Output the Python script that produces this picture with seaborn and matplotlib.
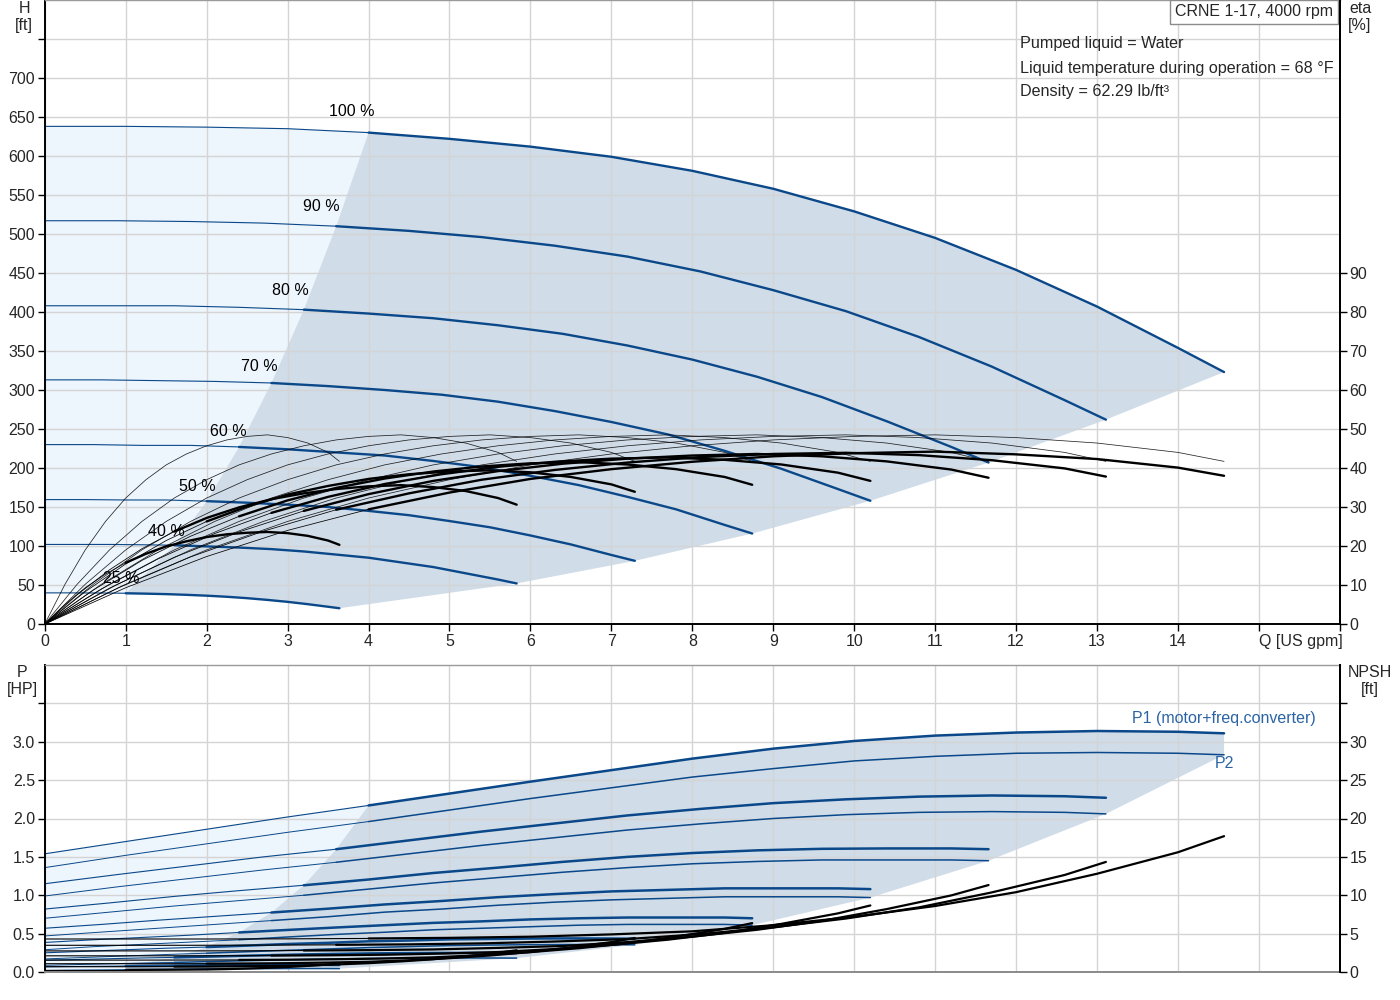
import seaborn as sns
import matplotlib.pyplot as plt

# ---- data -------------------------------------------------------------------
# flow points of each speed curve [US gpm]
q_100 = [0, 1, 2, 3, 4, 5, 6, 7, 8, 9, 10, 11, 12, 13, 14, 14.57]
q_90 = [0, 0.9, 1.8, 2.7, 3.6, 4.5, 5.4, 6.3, 7.2, 8.1, 9.0, 9.9, 10.8, 11.7, 12.6, 13.11]
q_80 = [0, 0.8, 1.6, 2.4, 3.2, 4.0, 4.8, 5.6, 6.4, 7.2, 8.0, 8.8, 9.6, 10.4, 11.2, 11.66]
q_70 = [0, 0.7, 1.4, 2.1, 2.8, 3.5, 4.2, 4.9, 5.6, 6.3, 7.0, 7.7, 8.4, 9.1, 9.8, 10.2]
q_60 = [0, 0.6, 1.2, 1.8, 2.4, 3.0, 3.6, 4.2, 4.8, 5.4, 6.0, 6.6, 7.2, 7.8, 8.4, 8.74]
q_50 = [0, 0.5, 1.0, 1.5, 2.0, 2.5, 3.0, 3.5, 4.0, 4.5, 5.0, 5.5, 6.0, 6.5, 7.0, 7.29]
q_40 = [0, 0.4, 0.8, 1.2, 1.6, 2.0, 2.4, 2.8, 3.2, 3.6, 4.0, 4.4, 4.8, 5.2, 5.6, 5.83]
q_25 = [0, 0.25, 0.5, 0.75, 1.0, 1.25, 1.5, 1.75, 2.0, 2.25, 2.5, 2.75, 3.0, 3.25, 3.5, 3.64]

# head [ft]
h_100 = [638, 638, 637, 635, 630, 622, 612, 599, 581, 558, 529, 495, 454, 407, 354, 323]
h_90 = [517, 517, 516, 514, 510, 504, 496, 485, 471, 452, 428, 401, 368, 330, 287, 262]
h_80 = [408, 408, 408, 406, 403, 398, 392, 383, 372, 357, 339, 317, 291, 260, 227, 207]
h_70 = [313, 313, 312, 311, 309, 305, 300, 294, 285, 273, 259, 243, 222, 199, 173, 158]
h_60 = [230, 230, 229, 229, 227, 224, 220, 216, 209, 201, 190, 178, 163, 147, 127, 116]
h_50 = [159.5, 159.5, 159, 159, 157.5, 155.5, 153, 150, 145, 139.5, 132, 124, 113.5, 102, 88.5, 81]
h_40 = [102, 102, 102, 101.6, 101, 99.5, 98, 96, 93, 89, 85, 79, 73, 65, 57, 52]
h_25 = [39.9, 39.9, 39.8, 39.7, 39.4, 38.9, 38.3, 37.4, 36.3, 34.9, 33.1, 30.9, 28.4, 25.4, 22.1, 20.2]

# pump efficiency [%] (thin curves, same values along every speed curve)
eta_pump = [0, 10.2, 19.0, 26.3, 32.3, 37.0, 40.8, 43.6, 45.7, 47.2, 48.1, 48.5, 47.8, 46.4, 44.0, 41.7]

# total efficiency [%] (thick curves)
eta_100 = [0, 9.3, 17.3, 24.0, 29.4, 33.7, 37.2, 39.7, 41.6, 43.0, 43.8, 44.2, 43.5, 42.3, 40.1, 38.0]
eta_90 = [0, 9.2, 17.2, 23.8, 29.3, 33.5, 37.0, 39.5, 41.4, 42.8, 43.6, 43.9, 43.3, 42.0, 39.9, 37.8]
eta_80 = [0, 9.2, 17.1, 23.6, 29.0, 33.3, 36.7, 39.2, 41.1, 42.4, 43.2, 43.6, 43.0, 41.7, 39.6, 37.5]
eta_70 = [0, 9.0, 16.7, 23.2, 28.5, 32.6, 35.9, 38.4, 40.3, 41.6, 42.4, 42.7, 42.1, 40.9, 38.8, 36.7]
eta_60 = [0, 8.7, 16.3, 22.5, 27.6, 31.7, 34.9, 37.3, 39.1, 40.4, 41.2, 41.5, 40.9, 39.7, 37.7, 35.7]
eta_50 = [0, 8.3, 15.4, 21.4, 26.3, 30.1, 33.2, 35.4, 37.2, 38.4, 39.1, 39.4, 38.9, 37.7, 35.8, 33.9]
eta_40 = [0, 7.5, 13.9, 19.3, 23.7, 27.2, 29.9, 32.0, 33.5, 34.6, 35.3, 35.6, 35.1, 34.1, 32.3, 30.6]
eta_25 = [0, 5.0, 9.3, 12.8, 15.7, 18.0, 19.9, 21.2, 22.3, 23.0, 23.4, 23.6, 23.3, 22.6, 21.4, 20.3]

# P1 (motor + freq. converter) [HP]
p1_100 = [1.54, 1.70, 1.86, 2.02, 2.17, 2.325, 2.48, 2.63, 2.78, 2.91, 3.01, 3.08, 3.12, 3.14, 3.13, 3.11]
p1_90 = [1.15, 1.27, 1.385, 1.50, 1.60, 1.715, 1.83, 1.935, 2.04, 2.125, 2.20, 2.25, 2.285, 2.30, 2.29, 2.27]
p1_80 = [0.82, 0.90, 0.985, 1.06, 1.13, 1.205, 1.29, 1.36, 1.435, 1.50, 1.55, 1.585, 1.605, 1.61, 1.61, 1.60]
p1_70 = [0.57, 0.62, 0.675, 0.725, 0.775, 0.825, 0.88, 0.925, 0.975, 1.015, 1.05, 1.07, 1.09, 1.09, 1.09, 1.08]
p1_60 = [0.385, 0.42, 0.45, 0.48, 0.515, 0.548, 0.58, 0.61, 0.64, 0.66, 0.685, 0.70, 0.71, 0.71, 0.71, 0.70]
p1_50 = [0.25, 0.27, 0.29, 0.31, 0.325, 0.344, 0.365, 0.38, 0.40, 0.41, 0.425, 0.43, 0.436, 0.438, 0.436, 0.434]
p1_40 = [0.153, 0.163, 0.173, 0.183, 0.19, 0.20, 0.21, 0.22, 0.229, 0.236, 0.242, 0.246, 0.248, 0.249, 0.248, 0.247]
p1_25 = [0.068, 0.071, 0.073, 0.075, 0.078, 0.080, 0.082, 0.085, 0.087, 0.088, 0.09, 0.091, 0.092, 0.092, 0.092, 0.091]

# P2 (shaft power) [HP]
p2_100 = [1.36, 1.52, 1.67, 1.82, 1.96, 2.11, 2.26, 2.40, 2.54, 2.65, 2.75, 2.81, 2.85, 2.86, 2.85, 2.83]
p2_90 = [0.99, 1.11, 1.22, 1.33, 1.43, 1.54, 1.65, 1.75, 1.85, 1.93, 2.00, 2.05, 2.08, 2.09, 2.08, 2.06]
p2_80 = [0.70, 0.78, 0.86, 0.93, 1.00, 1.08, 1.16, 1.23, 1.30, 1.36, 1.41, 1.44, 1.46, 1.46, 1.46, 1.45]
p2_70 = [0.47, 0.52, 0.57, 0.62, 0.67, 0.72, 0.78, 0.82, 0.87, 0.91, 0.94, 0.96, 0.98, 0.98, 0.98, 0.97]
p2_60 = [0.29, 0.33, 0.36, 0.39, 0.42, 0.456, 0.49, 0.518, 0.55, 0.57, 0.59, 0.61, 0.62, 0.62, 0.62, 0.61]
p2_50 = [0.170, 0.190, 0.209, 0.228, 0.245, 0.264, 0.283, 0.300, 0.318, 0.331, 0.344, 0.351, 0.356, 0.358, 0.356, 0.354]
p2_40 = [0.087, 0.097, 0.107, 0.117, 0.125, 0.135, 0.145, 0.154, 0.163, 0.170, 0.176, 0.180, 0.182, 0.183, 0.182, 0.181]
p2_25 = [0.021, 0.024, 0.026, 0.028, 0.031, 0.033, 0.035, 0.0375, 0.040, 0.041, 0.043, 0.044, 0.045, 0.045, 0.045, 0.044]

# NPSH [ft]
npsh_100 = [4.3, 4.3, 4.3, 4.32, 4.37, 4.45, 4.6, 4.9, 5.3, 6.1, 7.2, 8.6, 10.4, 12.8, 15.6, 17.7]
npsh_90 = [3.48, 3.48, 3.48, 3.50, 3.54, 3.60, 3.73, 3.97, 4.29, 4.94, 5.83, 6.97, 8.42, 10.37, 12.64, 14.34]
npsh_80 = [2.75, 2.75, 2.75, 2.76, 2.80, 2.85, 2.94, 3.14, 3.39, 3.90, 4.61, 5.50, 6.66, 8.19, 9.98, 11.33]
npsh_70 = [2.11, 2.11, 2.11, 2.12, 2.14, 2.18, 2.25, 2.40, 2.60, 2.99, 3.53, 4.21, 5.10, 6.27, 7.64, 8.67]
npsh_60 = [1.55, 1.55, 1.55, 1.56, 1.57, 1.60, 1.66, 1.76, 1.91, 2.20, 2.59, 3.10, 3.74, 4.61, 5.62, 6.37]
npsh_50 = [1.08, 1.08, 1.08, 1.08, 1.09, 1.11, 1.15, 1.23, 1.33, 1.53, 1.80, 2.15, 2.60, 3.20, 3.90, 4.43]
npsh_40 = [0.69, 0.69, 0.69, 0.69, 0.70, 0.71, 0.74, 0.78, 0.85, 0.98, 1.15, 1.38, 1.66, 2.05, 2.50, 2.83]
npsh_25 = [0.27, 0.27, 0.27, 0.27, 0.27, 0.28, 0.29, 0.31, 0.33, 0.38, 0.45, 0.54, 0.65, 0.80, 0.98, 1.11]

speed_labels = ["100 %", "90 %", "80 %", "70 %", "60 %", "50 %", "40 %", "25 %"]
# where each speed label sits relative to the start of its thick curve part [pt]
label_offsets = [(-12, 15), (-10.5, 14.5), (-9.5, 13.5), (-8.5, 12.2),
                 (-7.5, 11.4), (-6.5, 10.9), (-5.5, 10.2), (-3.5, 10.3)]

q_ticks = list(range(0, 17))
q_ticklabels = [str(i) for i in range(15)] + ["Q [US gpm]", ""]
h_ticks = list(range(0, 800, 50))
eta_ticks = list(range(0, 100, 10))
p_ticks = [0.0, 0.5, 1.0, 1.5, 2.0, 2.5, 3.0, 3.5]
npsh_ticks = [0, 5, 10, 15, 20, 25, 30, 35]

curves = list(zip(speed_labels,
                  [q_100, q_90, q_80, q_70, q_60, q_50, q_40, q_25],
                  [h_100, h_90, h_80, h_70, h_60, h_50, h_40, h_25],
                  [eta_100, eta_90, eta_80, eta_70, eta_60, eta_50, eta_40, eta_25],
                  [p1_100, p1_90, p1_80, p1_70, p1_60, p1_50, p1_40, p1_25],
                  [p2_100, p2_90, p2_80, p2_70, p2_60, p2_50, p2_40, p2_25],
                  [npsh_100, npsh_90, npsh_80, npsh_70, npsh_60, npsh_50, npsh_40, npsh_25],
                  label_offsets))

# first point of the recommended (dark) range on every curve
K = 4

# ---- style -------------------------------------------------------------------
sns.set_theme(style="white")
plt.rcParams['font.family'] = ['Liberation Sans', 'DejaVu Sans']
plt.rcParams['font.size'] = 11.5

blue = "#0a4889"
label_blue = "#2a64a4"
light_fill = "#edf5fd"
dark_fill = "#d0dce8"
grid_col = "#d4d4d4"
FS = 11.5


def line(ax, q, v, color, lw, alpha=1.0):
    sns.lineplot(x=q, y=v, ax=ax, color=color, linewidth=lw, alpha=alpha,
                 estimator=None, sort=False, legend=False)


def split_line(ax, q, v, color, thin, thick):
    line(ax, q[:K + 1], v[:K + 1], color, thin)
    line(ax, q[K:], v[K:], color, thick)


def style_axes(ax):
    ax.set_facecolor("white")
    ax.set_axisbelow(True)
    ax.grid(True, color=grid_col, linewidth=1.0)
    for side in ("left", "right", "bottom"):
        ax.spines[side].set_color("black")
        ax.spines[side].set_linewidth(1.4)
    ax.spines["top"].set_color("#9a9a9a")
    ax.spines["top"].set_linewidth(1.0)


fig = plt.figure(figsize=(14, 10), dpi=100)
ax1 = fig.add_axes([0.032, 0.376, 0.925, 0.624])
ax2 = fig.add_axes([0.032, 0.028, 0.925, 0.307])
ax1e = ax1.twinx()
ax2n = ax2.twinx()

style_axes(ax1)
style_axes(ax2)
ax2.spines["bottom"].set_color("#8a8a8a")
for tw in (ax1e, ax2n):
    tw.grid(False)
    for side in ("left", "top", "bottom"):
        tw.spines[side].set_visible(False)
    tw.spines["right"].set_color("black")
    tw.spines["right"].set_linewidth(1.4)

# ---- shaded operating areas (top) -------------------------------------------
qs = [c[1] for c in curves]
hs = [c[2] for c in curves]
dark_x = q_100[K:] + [q[-1] for q in qs[1:]] + q_25[K:-1][::-1] + [q[K] for q in qs[1:-1]][::-1]
dark_y = h_100[K:] + [h[-1] for h in hs[1:]] + h_25[K:-1][::-1] + [h[K] for h in hs[1:-1]][::-1]
light_x = q_100[:K + 1] + [q[K] for q in qs[1:]] + q_25[:K][::-1]
light_y = h_100[:K + 1] + [h[K] for h in hs[1:]] + h_25[:K][::-1]
ax1.fill(light_x, light_y, color=light_fill, lw=0, zorder=0.2)
ax1.fill(dark_x, dark_y, color=dark_fill, lw=0, zorder=0.2)

# ---- shaded operating areas (bottom) ----------------------------------------
p1s = [c[4] for c in curves]
p2s = [c[5] for c in curves]
bdark_x = (q_100[K:] + [q[-1] for q in qs] + q_25[K:-1][::-1]
           + [q_25[K]] + [q[K] for q in qs[1:-1]][::-1])
bdark_y = (p1_100[K:] + [p[-1] for p in p2s] + p2_25[K:-1][::-1]
           + [p1_25[K]] + [p[K] for p in p1s[1:-1]][::-1])
blight_x = q_100[:K + 1] + [q[K] for q in qs[1:]] + [q_25[K]] + q_25[:K][::-1]
blight_y = p1_100[:K + 1] + [p[K] for p in p1s[1:]] + [p2_25[K]] + p2_25[:K][::-1]
ax2.fill(blight_x, blight_y, color=light_fill, lw=0, zorder=0.2)
ax2.fill(bdark_x, bdark_y, color=dark_fill, lw=0, zorder=0.2)

# ---- curves -------------------------------------------------------------------
for lab, q, h, eta, p1, p2, npsh, off in curves:
    split_line(ax1, q, h, blue, 0.8, 1.7)
    line(ax1e, q, eta_pump, "black", 0.55, alpha=0.85)
    split_line(ax1e, q, eta, "black", 0.55, 1.7)
    split_line(ax2, q, p1, blue, 0.8, 1.8)
    split_line(ax2, q, p2, blue, 0.7, 1.1)
    split_line(ax2n, q, npsh, "black", 0.8, 1.6)
    ax1.annotate(lab, (q[K], h[K]), xytext=off, textcoords="offset points",
                 ha="center", va="center", fontsize=FS, color="black")

ax2.annotate("P1 (motor+freq.converter)", (q_100[-1], p1_100[-1]), xytext=(66, 11),
             textcoords="offset points", ha="right", va="center", fontsize=FS,
             color=label_blue)
ax2.annotate("P2", (q_100[-1], p2_100[-1]), xytext=(0, -6), textcoords="offset points",
             ha="center", va="center", fontsize=FS, color=label_blue)

# ---- axes ---------------------------------------------------------------------
for ax in (ax1, ax2, ax1e, ax2n):
    ax.set_xlim(0, 16)
    ax.set_xlabel("")
    ax.set_ylabel("")
ax1.set_ylim(0, 800)
ax1e.set_ylim(0, 160)
ax2.set_ylim(0, 4)
ax2n.set_ylim(0, 40)

ax1.set_xticks(q_ticks)
ax1.set_xticklabels(q_ticklabels)
ax1.get_xticklabels()[15].set_ha("left")
ax1.tick_params(axis="x", bottom=True, length=5, width=1, color="black",
                labelsize=FS, pad=2)
ax1.set_yticks(h_ticks)
ax1.set_yticklabels([str(v) if v <= 700 else "" for v in h_ticks])
ax1.tick_params(axis="y", left=True, length=5, width=1, color="black", labelsize=FS, pad=2)
ax1e.set_yticks(eta_ticks)
ax1e.tick_params(axis="y", right=True, length=5, width=1, color="black", labelsize=FS, pad=2)

ax2.set_xticks(q_ticks)
ax2.set_xticklabels([])
ax2.tick_params(axis="x", bottom=False, length=0)
ax2.set_yticks(p_ticks)
ax2.set_yticklabels([f"{v:.1f}" if v <= 3.0 else "" for v in p_ticks])
ax2.tick_params(axis="y", left=True, length=5, width=1, color="black", labelsize=FS, pad=2)
ax2n.set_yticks(npsh_ticks)
ax2n.set_yticklabels([str(v) if v <= 30 else "" for v in npsh_ticks])
ax2n.tick_params(axis="y", right=True, length=5, width=1, color="black", labelsize=FS, pad=2)

# ---- texts --------------------------------------------------------------------
ax1.text(0.9946, 0.981, "CRNE 1-17, 4000 rpm", transform=ax1.transAxes, ha="right",
         va="center", fontsize=11.5,
         bbox=dict(boxstyle="square,pad=0.3", fc="white", ec="#8c8c8c", lw=1))
ax1.text(0.753, 0.9295, "Pumped liquid = Water", transform=ax1.transAxes,
         ha="left", va="center", fontsize=11.6)
ax1.text(0.753, 0.891, "Liquid temperature during operation = 68 °F",
         transform=ax1.transAxes, ha="left", va="center", fontsize=11.6)
ax1.text(0.753, 0.8526, "Density = 62.29 lb/ft³", transform=ax1.transAxes,
         ha="left", va="center", fontsize=11.6)

fig.text(24 / 1400, 1 - 17 / 1000, "H\n[ft]", ha="center", va="center", fontsize=FS,
         linespacing=1.1)
fig.text(1360 / 1400, 1 - 17 / 1000, "eta\n[%]", ha="center", va="center", fontsize=FS,
         linespacing=1.1)
fig.text(22 / 1400, 1 - 681 / 1000, "P\n[HP]", ha="center", va="center", fontsize=FS,
         linespacing=1.1)
fig.text(1370 / 1400, 1 - 681 / 1000, "NPSH\n[ft]", ha="center", va="center", fontsize=FS,
         linespacing=1.1)

fig.savefig("out.png", dpi=100, facecolor="white")
